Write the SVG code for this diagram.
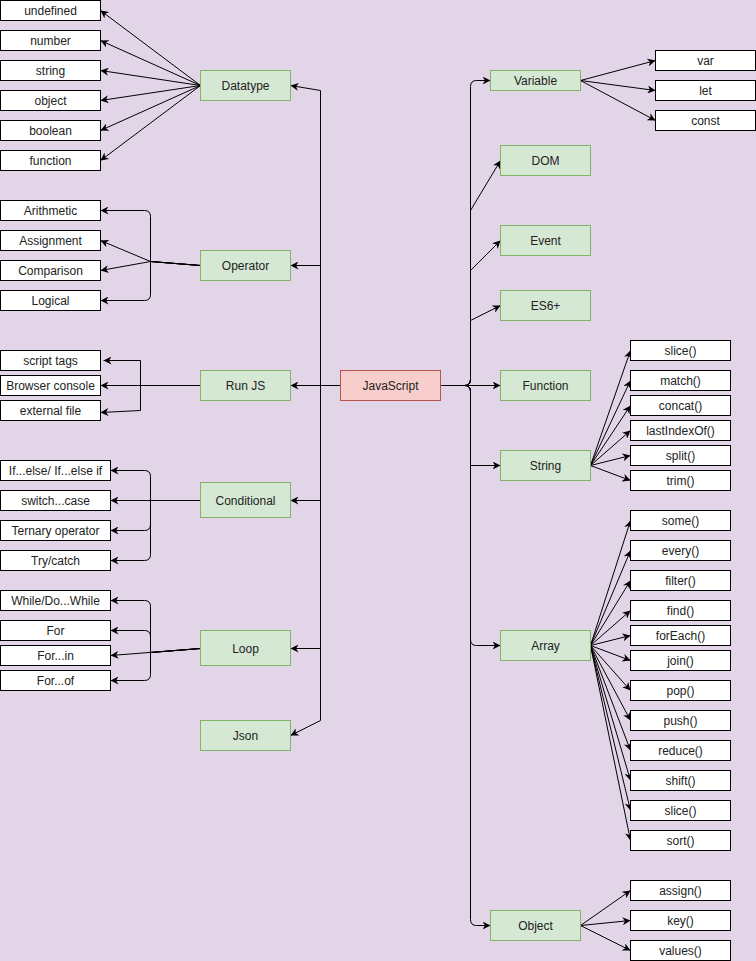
<svg xmlns="http://www.w3.org/2000/svg" width="756" height="961" viewBox="0 0 756 961">
  <style>
    .leaf { fill: #ffffff; stroke: #000000; stroke-width: 1; }
    .topic { fill: #d5e8d4; stroke: #82b366; stroke-width: 1; }
    .root { fill: #f8cecc; stroke: #b85450; stroke-width: 1; }
    text { font-family: "Liberation Sans", Arial, Helvetica, sans-serif; font-size: 12px; fill: #222222; text-anchor: middle; dominant-baseline: central; }
    .edge { fill: none; stroke: #000000; stroke-width: 1; marker-end: url(#arrow); }
  </style>
  <defs>
    <marker id="arrow" viewBox="0 0 10 10" refX="10" refY="5" markerWidth="8" markerHeight="8" orient="auto" markerUnits="userSpaceOnUse">
      <path d="M0,0 L10,5 L0,10 L3,5 Z" fill="#000000"/>
    </marker>
  </defs>

  <rect width="756" height="961" fill="#e1d5e7"/>

  <!-- half-pixel offset keeps 1px strokes crisp -->
  <g transform="translate(0.5,0.5)">
  <!-- connectors -->
  <g id="connectors">
    <!-- JavaScript to left topics -->
    <path class="edge" d="M340,385 L320,385 L320,90 L290,85"/>
    <path class="edge" d="M340,385 L320,385 L320,265 L290,265"/>
    <path class="edge" d="M340,385 L290,385"/>
    <path class="edge" d="M340,385 L320,385 L320,500 L290,500"/>
    <path class="edge" d="M340,385 L320,385 L320,648 L290,648"/>
    <path class="edge" d="M340,385 L320,385 L320,720 L290,735"/>

    <!-- JavaScript to right topics -->
    <path class="edge" d="M440,385 L464,385 Q470,385 470,379 L470,86 Q470,80 476,80 L490,80"/>
    <path class="edge" d="M440,385 L464,385 Q470,385 470,379 L470,210 L500,160"/>
    <path class="edge" d="M440,385 L464,385 Q470,385 470,379 L470,270 L500,240"/>
    <path class="edge" d="M440,385 L464,385 Q470,385 470,379 L470,320 L500,305"/>
    <path class="edge" d="M440,385 L500,385"/>
    <path class="edge" d="M440,385 L464,385 Q470,385 470,391 L470,465 L500,465"/>
    <path class="edge" d="M440,385 L464,385 Q470,385 470,391 L470,639 Q470,645 476,645 L500,645"/>
    <path class="edge" d="M440,385 L464,385 Q470,385 470,391 L470,919 Q470,925 476,925 L490,925"/>

    <!-- Datatype -->
    <path class="edge" d="M200,85 L100,10"/>
    <path class="edge" d="M200,85 L100,40"/>
    <path class="edge" d="M200,85 L100,70"/>
    <path class="edge" d="M200,85 L100,100"/>
    <path class="edge" d="M200,85 L100,130"/>
    <path class="edge" d="M200,85 L100,160"/>

    <!-- Operator -->
    <path class="edge" d="M200,265 L150,261 L150,216 Q150,210 144,210 L100,210"/>
    <path class="edge" d="M200,265 L150,261 L100,240"/>
    <path class="edge" d="M200,265 L150,261 L100,270"/>
    <path class="edge" d="M200,265 L150,261 L150,294 Q150,300 144,300 L100,300"/>

    <!-- Run JS -->
    <path class="edge" d="M200,385 L140,385 L140,360 L103,360"/>
    <path class="edge" d="M200,385 L100,385"/>
    <path class="edge" d="M200,385 L140,385 L140,410 L100,412"/>

    <!-- Conditional -->
    <path class="edge" d="M200,500 L150,500 L150,476 Q150,470 144,470 L110,470"/>
    <path class="edge" d="M200,500 L110,500"/>
    <path class="edge" d="M200,500 L150,500 L150,524 Q150,530 144,530 L110,530"/>
    <path class="edge" d="M200,500 L150,500 L150,554 Q150,560 144,560 L110,560"/>

    <!-- Loop -->
    <path class="edge" d="M200,648 L150,652 L150,606 Q150,600 144,600 L110,600"/>
    <path class="edge" d="M200,648 L150,652 L150,636 Q150,630 144,630 L110,630"/>
    <path class="edge" d="M200,648 L110,655"/>
    <path class="edge" d="M200,648 L150,652 L150,674 Q150,680 144,680 L110,680"/>

    <!-- Variable -->
    <path class="edge" d="M580,80 L655,60"/>
    <path class="edge" d="M580,80 L655,90"/>
    <path class="edge" d="M580,80 L655,120"/>

    <!-- String -->
    <path class="edge" d="M590,465 L630,350"/>
    <path class="edge" d="M590,465 L630,380"/>
    <path class="edge" d="M590,465 L630,405"/>
    <path class="edge" d="M590,465 L630,430"/>
    <path class="edge" d="M590,465 L630,455"/>
    <path class="edge" d="M590,465 L630,480"/>

    <!-- Array -->
    <path class="edge" d="M590,645 L630,520"/>
    <path class="edge" d="M590,645 L630,550"/>
    <path class="edge" d="M590,645 L630,580"/>
    <path class="edge" d="M590,645 L630,610"/>
    <path class="edge" d="M590,645 L630,635"/>
    <path class="edge" d="M590,645 L630,660"/>
    <path class="edge" d="M590,645 L630,690"/>
    <path class="edge" d="M590,645 L630,720"/>
    <path class="edge" d="M590,645 L630,750"/>
    <path class="edge" d="M590,645 L630,780"/>
    <path class="edge" d="M590,645 L630,810"/>
    <path class="edge" d="M590,645 L630,840"/>

    <!-- Object -->
    <path class="edge" d="M580,925 L630,890"/>
    <path class="edge" d="M580,925 L630,920"/>
    <path class="edge" d="M580,925 L630,950"/>
  </g>

  <!-- root -->
  <g id="javascript"><rect class="root" x="340" y="370" width="100" height="30"/><text x="390" y="385">JavaScript</text></g>

  <!-- left topics -->
  <g id="datatype"><rect class="topic" x="200" y="70" width="90" height="30"/><text x="245" y="85">Datatype</text></g>
  <g id="operator"><rect class="topic" x="200" y="250" width="90" height="30"/><text x="245" y="265">Operator</text></g>
  <g id="runjs"><rect class="topic" x="200" y="370" width="90" height="30"/><text x="245" y="385">Run JS</text></g>
  <g id="conditional"><rect class="topic" x="200" y="482" width="90" height="35"/><text x="245" y="500">Conditional</text></g>
  <g id="loop"><rect class="topic" x="200" y="630" width="90" height="35"/><text x="245" y="648">Loop</text></g>
  <g id="json"><rect class="topic" x="200" y="720" width="90" height="30"/><text x="245" y="735">Json</text></g>

  <!-- Datatype leaves -->
  <g id="dt-undefined"><rect class="leaf" x="0" y="0" width="100" height="20"/><text x="50" y="10">undefined</text></g>
  <g id="dt-number"><rect class="leaf" x="0" y="30" width="100" height="20"/><text x="50" y="40">number</text></g>
  <g id="dt-string"><rect class="leaf" x="0" y="60" width="100" height="20"/><text x="50" y="70">string</text></g>
  <g id="dt-object"><rect class="leaf" x="0" y="90" width="100" height="20"/><text x="50" y="100">object</text></g>
  <g id="dt-boolean"><rect class="leaf" x="0" y="120" width="100" height="20"/><text x="50" y="130">boolean</text></g>
  <g id="dt-function"><rect class="leaf" x="0" y="150" width="100" height="20"/><text x="50" y="160">function</text></g>

  <!-- Operator leaves -->
  <g id="op-arithmetic"><rect class="leaf" x="0" y="200" width="100" height="20"/><text x="50" y="210">Arithmetic</text></g>
  <g id="op-assignment"><rect class="leaf" x="0" y="230" width="100" height="20"/><text x="50" y="240">Assignment</text></g>
  <g id="op-comparison"><rect class="leaf" x="0" y="260" width="100" height="20"/><text x="50" y="270">Comparison</text></g>
  <g id="op-logical"><rect class="leaf" x="0" y="290" width="100" height="20"/><text x="50" y="300">Logical</text></g>

  <!-- Run JS leaves -->
  <g id="run-script"><rect class="leaf" x="0" y="350" width="100" height="20"/><text x="50" y="360">script tags</text></g>
  <g id="run-console"><rect class="leaf" x="0" y="375" width="100" height="20"/><text x="50" y="385">Browser console</text></g>
  <g id="run-file"><rect class="leaf" x="0" y="400" width="100" height="20"/><text x="50" y="410">external file</text></g>

  <!-- Conditional leaves -->
  <g id="cond-if"><rect class="leaf" x="0" y="460" width="110" height="20"/><text x="55" y="470">If...else/ If...else if</text></g>
  <g id="cond-switch"><rect class="leaf" x="0" y="490" width="110" height="20"/><text x="55" y="500">switch...case</text></g>
  <g id="cond-ternary"><rect class="leaf" x="0" y="520" width="110" height="20"/><text x="55" y="530">Ternary operator</text></g>
  <g id="cond-try"><rect class="leaf" x="0" y="550" width="110" height="20"/><text x="55" y="560">Try/catch</text></g>

  <!-- Loop leaves -->
  <g id="loop-while"><rect class="leaf" x="0" y="590" width="110" height="20"/><text x="55" y="600">While/Do...While</text></g>
  <g id="loop-for"><rect class="leaf" x="0" y="620" width="110" height="20"/><text x="55" y="630">For</text></g>
  <g id="loop-forin"><rect class="leaf" x="0" y="645" width="110" height="20"/><text x="55" y="655">For...in</text></g>
  <g id="loop-forof"><rect class="leaf" x="0" y="670" width="110" height="20"/><text x="55" y="680">For...of</text></g>

  <!-- right topics -->
  <g id="variable"><rect class="topic" x="490" y="70" width="90" height="20"/><text x="535" y="80">Variable</text></g>
  <g id="dom"><rect class="topic" x="500" y="145" width="90" height="30"/><text x="545" y="160">DOM</text></g>
  <g id="event"><rect class="topic" x="500" y="225" width="90" height="30"/><text x="545" y="240">Event</text></g>
  <g id="es6"><rect class="topic" x="500" y="290" width="90" height="30"/><text x="545" y="305">ES6+</text></g>
  <g id="function"><rect class="topic" x="500" y="370" width="90" height="30"/><text x="545" y="385">Function</text></g>
  <g id="string"><rect class="topic" x="500" y="450" width="90" height="30"/><text x="545" y="465">String</text></g>
  <g id="array"><rect class="topic" x="500" y="630" width="90" height="30"/><text x="545" y="645">Array</text></g>
  <g id="object"><rect class="topic" x="490" y="910" width="90" height="30"/><text x="535" y="925">Object</text></g>

  <!-- Variable leaves -->
  <g id="var-var"><rect class="leaf" x="655" y="50" width="100" height="20"/><text x="705" y="60">var</text></g>
  <g id="var-let"><rect class="leaf" x="655" y="80" width="100" height="20"/><text x="705" y="90">let</text></g>
  <g id="var-const"><rect class="leaf" x="655" y="110" width="100" height="20"/><text x="705" y="120">const</text></g>

  <!-- String leaves -->
  <g id="str-slice"><rect class="leaf" x="630" y="340" width="100" height="20"/><text x="680" y="350">slice()</text></g>
  <g id="str-match"><rect class="leaf" x="630" y="370" width="100" height="20"/><text x="680" y="380">match()</text></g>
  <g id="str-concat"><rect class="leaf" x="630" y="395" width="100" height="20"/><text x="680" y="405">concat()</text></g>
  <g id="str-lastindexof"><rect class="leaf" x="630" y="420" width="100" height="20"/><text x="680" y="430">lastIndexOf()</text></g>
  <g id="str-split"><rect class="leaf" x="630" y="445" width="100" height="20"/><text x="680" y="455">split()</text></g>
  <g id="str-trim"><rect class="leaf" x="630" y="470" width="100" height="20"/><text x="680" y="480">trim()</text></g>

  <!-- Array leaves -->
  <g id="arr-some"><rect class="leaf" x="630" y="510" width="100" height="20"/><text x="680" y="520">some()</text></g>
  <g id="arr-every"><rect class="leaf" x="630" y="540" width="100" height="20"/><text x="680" y="550">every()</text></g>
  <g id="arr-filter"><rect class="leaf" x="630" y="570" width="100" height="20"/><text x="680" y="580">filter()</text></g>
  <g id="arr-find"><rect class="leaf" x="630" y="600" width="100" height="20"/><text x="680" y="610">find()</text></g>
  <g id="arr-foreach"><rect class="leaf" x="630" y="625" width="100" height="20"/><text x="680" y="635">forEach()</text></g>
  <g id="arr-join"><rect class="leaf" x="630" y="650" width="100" height="20"/><text x="680" y="660">join()</text></g>
  <g id="arr-pop"><rect class="leaf" x="630" y="680" width="100" height="20"/><text x="680" y="690">pop()</text></g>
  <g id="arr-push"><rect class="leaf" x="630" y="710" width="100" height="20"/><text x="680" y="720">push()</text></g>
  <g id="arr-reduce"><rect class="leaf" x="630" y="740" width="100" height="20"/><text x="680" y="750">reduce()</text></g>
  <g id="arr-shift"><rect class="leaf" x="630" y="770" width="100" height="20"/><text x="680" y="780">shift()</text></g>
  <g id="arr-slice"><rect class="leaf" x="630" y="800" width="100" height="20"/><text x="680" y="810">slice()</text></g>
  <g id="arr-sort"><rect class="leaf" x="630" y="830" width="100" height="20"/><text x="680" y="840">sort()</text></g>

  <!-- Object leaves -->
  <g id="obj-assign"><rect class="leaf" x="630" y="880" width="100" height="20"/><text x="680" y="890">assign()</text></g>
  <g id="obj-key"><rect class="leaf" x="630" y="910" width="100" height="20"/><text x="680" y="920">key()</text></g>
  <g id="obj-values"><rect class="leaf" x="630" y="940" width="100" height="20"/><text x="680" y="950">values()</text></g>
  </g>
</svg>
